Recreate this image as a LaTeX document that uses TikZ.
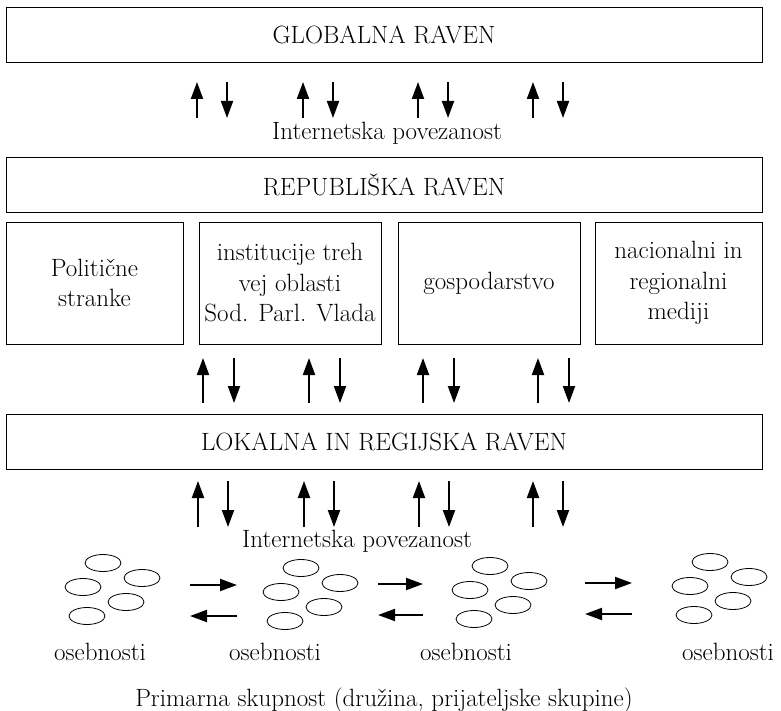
\documentclass[tikz,border=0pt]{standalone}
\usetikzlibrary{arrows.meta,positioning}
\newcommand{\bigfont}{\fontsize{25}{30.5}\selectfont}
\tikzset{
  level/.style={draw,rectangle,line width=0.9pt,minimum width=756pt,minimum height=55pt,inner sep=0pt,font=\bigfont},
  unit/.style={draw,rectangle,line width=0.9pt,minimum height=122pt,inner sep=0pt,align=center,font=\bigfont},
  txt/.style={inner sep=0pt,font=\bigfont},
  flow/.style={-{Triangle[length=17pt,width=12pt]},line width=2pt},
  crowd/.pic={
    \foreach \dx/\dy in {-9/-27,-29/-3,30/-12,14/12,-25/26}
      \draw[line width=0.8pt] (\dx,\dy) ellipse [x radius=18pt,y radius=8.5pt];
  }
}
\begin{document}
\begin{tikzpicture}[x=1pt,y=-1pt]
  \useasboundingbox (0,0) rectangle (781,711);
  % levels
  \node[level] (glob) at (384,35) {GLOBALNA RAVEN};
  \node[txt] (net1) at (387,133) {Internetska povezanost};
  \node[level] (rep) at (384,184.5) {REPUBLIŠKA RAVEN};
  \node[unit,minimum width=177pt] (pol) at (94.5,283) {Politične\\stranke};
  \node[unit,minimum width=182pt] (inst) at (290,283) {institucije treh\\vej oblasti\\Sod. Parl. Vlada};
  \node[unit,minimum width=182pt] (gosp) at (489,283) {gospodarstvo};
  \node[unit,minimum width=167pt] (med) at (678.5,283) {nacionalni in\\regionalni\\mediji};
  \node[level] (lok) at (384,442) {LOKALNA IN REGIJSKA RAVEN};
  \node[txt] (net2) at (357,541) {Internetska povezanost};
  % vertical links
  \foreach \x in {197,303,418,533} {
    \draw[flow] (\x,118) -- (\x,82);
    \draw[flow] (\x+30,82) -- (\x+30,118);
  }
  \foreach \x in {203,309,423,538} {
    \draw[flow] (\x,403) -- (\x,358);
    \draw[flow] (\x+31,358) -- (\x+31,403);
  }
  \foreach \x in {198,304,419,533} {
    \draw[flow] (\x,527) -- (\x,481);
    \draw[flow] (\x+30,481) -- (\x+30,527);
  }
  % primary groups
  \pic (g1) at (112,590) {crowd};
  \pic (g2) at (310,595) {crowd};
  \pic (g3) at (499,593) {crowd};
  \pic (g4) at (719,589) {crowd};
  \node[txt] (os1) at (100,652) {osebnosti};
  \node[txt] (os2) at (275,652) {osebnosti};
  \node[txt] (os3) at (466,652) {osebnosti};
  \node[txt] (os4) at (728,652) {osebnosti};
  \foreach \a/\b/\y in {190/237/585,378/423/584,585/632/583} {
    \draw[flow] (\a,\y) -- (\b,\y);
    \draw[flow] (\b,\y+31) -- (\a,\y+31);
  }
  \node[txt] (prim) at (384,700) {Primarna skupnost (družina, prijateljske skupine)};
\end{tikzpicture}
\end{document}
